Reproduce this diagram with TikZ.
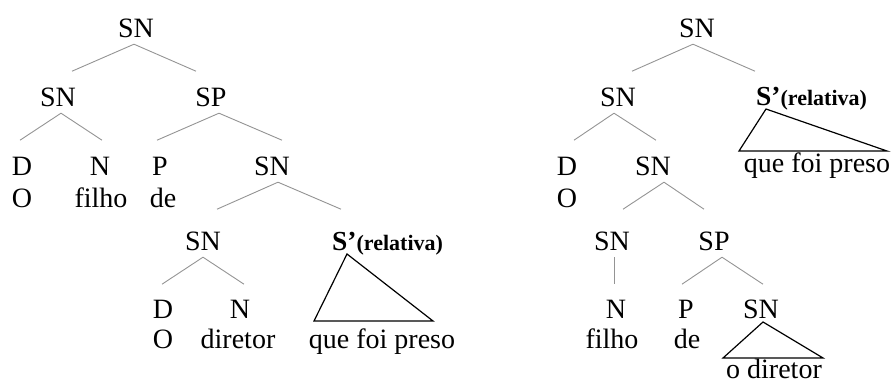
\documentclass[tikz,border=0pt]{standalone}
\usepackage{fontspec}
\setmainfont{Liberation Serif}
\usetikzlibrary{calc}
\tikzset{
  lbl/.style={anchor=base, inner sep=0pt, text depth=0pt, font=\fontsize{28}{33}\selectfont},
  wrd/.style={anchor=base, inner sep=0pt, font=\fontsize{28}{33}\selectfont},
  rel/.style={anchor=base west, inner sep=0pt, text depth=0pt},
  branch/.style={draw=black!42, line width=0.9pt},
  fork/.style 2 args={to path={($(\tikztostart.south)+(#1,7)$) -- ++(#2,27)}},
  tri/.style={draw=black, line width=1.2pt, line join=miter}
}
\newcommand{\relS}{{\fontsize{27.5}{30}\selectfont\bfseries S’}{\fontsize{22}{26}\selectfont\bfseries(relativa)}}
\begin{document}
\begin{tikzpicture}[x=1pt, y=-1pt]
\useasboundingbox (0,0) rectangle (892,383);
% ---------- left tree ----------
\node[lbl] (a0) at (136,37) {SN};
\node[lbl] (a1) at (58,106) {SN};
\node[lbl] (a2) at (211,106) {SP};
\node[lbl] (a3) at (22,175) {D};
\node[lbl] (a4) at (100,175) {N};
\node[lbl] (a5) at (160,175) {P};
\node[lbl] (a6) at (272,175) {SN};
\node[wrd] (w1) at (22,207) {O};
\node[wrd] (w2) at (101,207) {filho};
\node[wrd] (w3) at (163,207) {de};
\node[lbl] (a7) at (203,250) {SN};
\node[rel] (a8) at (332,250) {\relS};
\node[lbl] (a9) at (163,318) {D};
\node[lbl] (a10) at (240,318) {N};
\node[wrd] (w4) at (163,348) {O};
\node[wrd] (w5) at (238,348) {diretor};
\node[wrd] (q1) at (382,348) {que foi preso};

\draw[branch] (a0) to[fork={-2}{-62}] (a1);
\draw[branch] (a0) to[fork={-2}{62}] (a2);
\draw[branch] (a1) to[fork={3}{-41}] (a3);
\draw[branch] (a1) to[fork={3}{41}] (a4);
\draw[branch] (a2) to[fork={8}{-62}] (a5);
\draw[branch] (a2) to[fork={8}{63}] (a6);
\draw[branch] (a6) to[fork={6}{-61}] (a7);
\draw[branch] (a6) to[fork={6}{63}] (a8);
\draw[branch] (a7) to[fork={0}{-41}] (a9);
\draw[branch] (a7) to[fork={0}{41}] (a10);
\draw[tri] ($(a8.base west)+(15,4)$) -- ($(q1.base)+(-68,-27)$) -- ($(q1.base)+(51,-27)$) -- cycle;

% ---------- right tree ----------
\node[lbl] (b0) at (697,37) {SN};
\node[lbl] (b1) at (618,106) {SN};
\node[rel] (b2) at (756,105) {\relS};
\node[lbl] (b3) at (567,175) {D};
\node[lbl] (b4) at (653,175) {SN};
\node[wrd] (v1) at (567,207) {O};
\node[wrd] (q2) at (817,172) {que foi preso};
\node[lbl] (b5) at (612,250) {SN};
\node[lbl] (b6) at (714,250) {SP};
\node[lbl] (b7) at (616,318) {N};
\node[lbl] (b8) at (686,318) {P};
\node[lbl] (b9) at (761,318) {SN};
\node[wrd] (v2) at (612,348) {filho};
\node[wrd] (v3) at (687,348) {de};
\node[wrd] (v4) at (774,378) {o diretor};

\draw[branch] (b0) to[fork={-4}{-61}] (b1);
\draw[branch] (b0) to[fork={-4}{62}] (b2);
\draw[branch] (b1) to[fork={-4}{-40}] (b3);
\draw[branch] (b1) to[fork={-4}{42}] (b4);
\draw[branch] (b4) to[fork={11}{-41}] (b5);
\draw[branch] (b4) to[fork={11}{40}] (b6);
\draw[branch] (b5) to[fork={2}{0}] (b7);
\draw[branch] (b6) to[fork={8}{-40}] (b8);
\draw[branch] (b6) to[fork={8}{41}] (b9);
\draw[tri] ($(b2.base west)+(10,4)$) -- ($(q2.base)+(-78,-21)$) -- ($(q2.base)+(70,-21)$) -- cycle;
\draw[tri] ($(b9.base)+(2,4)$) -- ($(v4.base)+(-51,-20)$) -- ($(v4.base)+(49,-20)$) -- cycle;
\end{tikzpicture}
\end{document}
